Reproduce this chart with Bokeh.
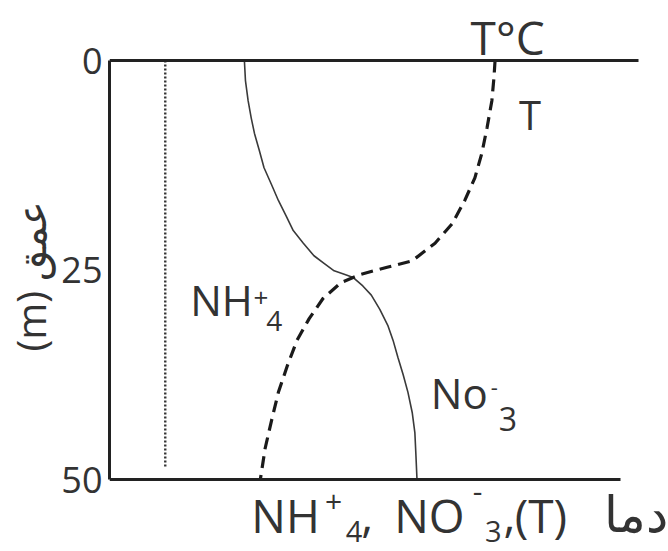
from bokeh.plotting import figure
from bokeh.models import LinearAxis, FixedTicker, Range1d, ColumnDataSource
from bokeh.core.properties import value
from bokeh.embed import file_html
from bokeh.resources import INLINE

# ---------------- data ----------------
# concentration / temperature axis in arbitrary units, depth in m
nh4_x = [25.4, 25.6, 26.1, 26.7, 27.3, 28.2, 29.1, 30.5, 31.8, 33.3, 34.6, 36.5, 38.5, 40.4, 42.3, 44.2, 45.9]
nh4_depth = [0, 2.4, 4.8, 6.9, 8.7, 10.7, 12.8, 14.8, 16.7, 18.6, 20.3, 21.8, 23.3, 24.2, 25.1, 25.5, 25.9]
no3_x = [45.9, 47.7, 49.3, 50.9, 52.4, 53.4, 54.3, 55.3, 56.2, 57.0, 57.5, 57.7, 57.9]
no3_depth = [25.9, 26.9, 28.0, 29.7, 31.6, 33.4, 35.4, 37.5, 39.6, 42.0, 44.4, 47.1, 50.0]
temp_x = [72.6, 72.4, 72.0, 71.1, 70.1, 68.8, 66.9, 64.5, 61.3, 57.0, 52.1, 47.4, 43.6,
          40.2, 37.6, 35.3, 33.5, 31.8, 30.5, 29.3, 28.4]
temp_depth = [0, 2.0, 4.8, 8.0, 11.1, 14.0, 16.7, 19.5, 21.8, 23.9, 24.7, 25.5, 26.5,
              28.4, 30.8, 33.4, 36.4, 39.6, 43.0, 46.3, 50.0]
ref_x = [10.5, 10.5]
ref_depth = [0, 48.7]
depth_ticks = [0, 25, 50]
depth_tick_labels = {0: "0", 25: "25", 50: "50"}
y_title = "(m) عمق"

INK = "#333333"
FONT = "Open Sans"

p = figure(width=668, height=551,
           x_range=Range1d(0, 105.26), y_range=Range1d(58.59, -7.16),
           x_axis_type=None, y_axis_type=None,
           output_backend="svg", toolbar_location=None,
           min_border_left=108, min_border_right=0,
           min_border_top=0, min_border_bottom=0)
p.outline_line_color = None
p.background_fill_color = "white"

# frame lines as axes
left = LinearAxis(bounds=(0, 50), ticker=FixedTicker(ticks=depth_ticks),
                  major_label_overrides=depth_tick_labels)
left.axis_line_width = 3
left.axis_line_color = "#222222"
left.major_tick_line_color = None
left.minor_tick_line_color = None
left.major_label_text_font = FONT
left.major_label_text_font_size = "36px"
left.major_label_text_color = INK
left.major_label_standoff = 1
left.axis_label = y_title
left.axis_label_text_font = FONT
left.axis_label_text_font_size = "40px"
left.axis_label_text_font_style = "normal"
left.axis_label_text_color = INK
left.axis_label_standoff = 0
p.add_layout(left, "left")

for loc, end, side in [(0, 99.6, "above"), (50, 96.2, "below")]:
    ax = LinearAxis(fixed_location=loc, bounds=(0, end), ticker=FixedTicker(ticks=[]))
    ax.axis_line_width = 3
    ax.axis_line_color = "#222222"
    ax.major_tick_line_color = None
    ax.minor_tick_line_color = None
    ax.major_label_text_font_size = "0px"
    p.add_layout(ax, side)

# series
p.line(ref_x, ref_depth, line_color="#333333", line_width=2.4, line_dash="2 2")
p.line(nh4_x, nh4_depth, line_color="#3a3a3a", line_width=1.6)
p.line(no3_x, no3_depth, line_color="#3a3a3a", line_width=1.6)
p.line(temp_x, temp_depth, line_color="#1a1a1a", line_width=3.2, line_dash="12 7")

# text annotations: (text, x, depth of baseline, size, align)
notes = [
    ("T°C", 68.0, -0.36, 46, "left"),
    ("T", 77.1, 8.47, 40, "left"),
    ("NH", 15.2, 30.67, 42, "left"),
    ("+", 27.1, 29.71, 26, "left"),
    ("4", 29.5, 32.46, 28, "left"),
    ("No", 60.5, 41.77, 42, "left"),
    ("-", 71.8, 39.98, 22, "left"),
    ("3", 73.3, 44.39, 32, "left"),
    # x title pieces
    ("NH", 26.7, 56.68, 46, "left"),
    ("+", 40.6, 54.18, 30, "left"),
    ("4", 44.5, 57.64, 29, "left"),
    (",", 47.4, 56.68, 46, "left"),
    ("NO", 53.6, 56.68, 46, "left"),
    ("-", 68.4, 52.99, 30, "left"),
    ("3", 70.7, 57.64, 29, "left"),
    (",", 74.2, 56.68, 46, "left"),
    ("(T)", 76.3, 56.68, 46, "left"),
    ("دما", 105.1, 56.68, 50, "right"),
]
for size in sorted(set(n[3] for n in notes)):
    for align in ("left", "right"):
        sel = [n for n in notes if n[3] == size and n[4] == align]
        if not sel:
            continue
        src = ColumnDataSource(dict(x=[n[1] for n in sel], y=[n[2] for n in sel],
                                    t=[n[0] for n in sel]))
        p.text(x="x", y="y", text="t", source=src,
               text_font=value(FONT), text_font_size=value(f"{size}px"),
               text_color=INK, text_align=align, text_baseline="alphabetic",
               y_offset=-round(0.43 * size))

open("out.html", "w").write(file_html(p, INLINE))
